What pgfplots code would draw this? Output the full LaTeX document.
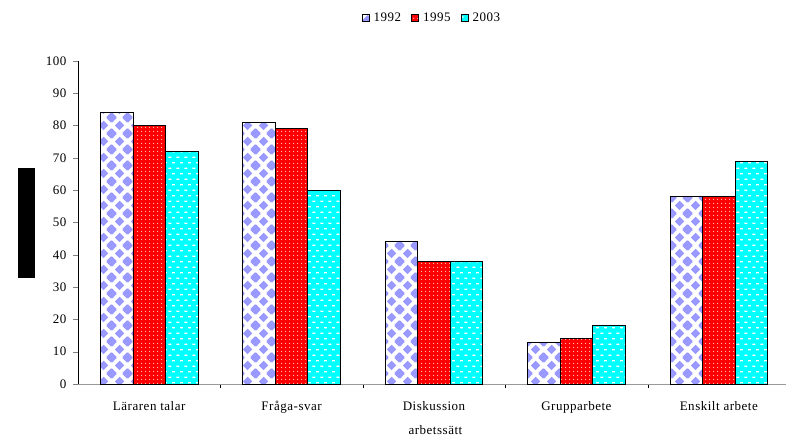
\documentclass[border=0pt]{standalone}
\usepackage{fontspec}
\setmainfont{Liberation Serif}[LetterSpace=4]
\usepackage{pgfplots}
\pgfplotsset{compat=1.18}
\usetikzlibrary{patterns}

% diamond checker for 1992
\pgfdeclarepatternformonly{diamonds}{\pgfpointorigin}{\pgfpoint{16pt}{16pt}}{\pgfpoint{16pt}{16pt}}{
  \foreach \cx/\cy in {8/8,0/0,16/0,0/16,16/16}{
    \pgfpathmoveto{\pgfpoint{\cx pt-5pt}{\cy pt}}
    \pgfpathlineto{\pgfpoint{\cx pt}{\cy pt-5pt}}
    \pgfpathlineto{\pgfpoint{\cx pt+5pt}{\cy pt}}
    \pgfpathlineto{\pgfpoint{\cx pt}{\cy pt+5pt}}
    \pgfpathclose
  }
  \pgfusepath{fill}
}
% small dots for 1995
\pgfdeclarepatternformonly{reddots}{\pgfpointorigin}{\pgfpoint{4pt}{4pt}}{\pgfpoint{4pt}{4pt}}{
  \pgfpathcircle{\pgfpoint{2pt}{2pt}}{0.75pt}
  \pgfusepath{fill}
}
% staggered dashes for 2003
\pgfdeclarepatternformonly{cyandashes}{\pgfpointorigin}{\pgfpoint{8pt}{11.4pt}}{\pgfpoint{8pt}{11.4pt}}{
  \pgfpathrectangle{\pgfpoint{0.5pt}{2.2pt}}{\pgfpoint{3.2pt}{1.3pt}}
  \pgfpathrectangle{\pgfpoint{4.5pt}{7.9pt}}{\pgfpoint{3.2pt}{1.3pt}}
  \pgfusepath{fill}
}

\definecolor{lav}{HTML}{9999FF}
\definecolor{aqua}{HTML}{00FFFF}

\pgfplotsset{
  sq legend/.style={legend image code/.code={
    \draw[##1, line width=1pt] (0pt,-3.5pt) rectangle (7pt,3.5pt);}},
}

\begin{document}
\begin{tikzpicture}
\useasboundingbox (0,0) rectangle (786pt,436pt);
\fill[black] (17.5pt,158pt) rectangle (35pt,268pt);
\begin{axis}[
  at={(78pt,52pt)}, anchor=south west,
  scale only axis, width=712pt, height=323pt,
  xmin=-0.5, xmax=4.5, ymin=0, ymax=100,
  ybar=0pt, bar width=32.5pt,
  axis lines*=left, axis line style={-},
  x axis line style={draw=gray!80},
  y axis line style={draw=black},
  xtick={0,...,4},
  xticklabels={Läraren talar, Fråga-svar, Diskussion, Grupparbete, Enskilt arbete},
  minor xtick={0.5,1.5,2.5,3.5},
  major x tick style={draw=none},
  minor x tick style={draw=black},
  minor tick length=4pt,
  ytick={0,10,...,100},
  major tick length=5pt,
  tick align=outside,
  tick label style={font=\fontsize{13}{15}\selectfont},
  /pgf/number format/assume math mode=true,
  xticklabel style={yshift=-9pt},
  yticklabel style={xshift=-3pt},
  xlabel={arbetssätt},
  xlabel style={at={(axis description cs:0.502,-0.142)}, anchor=center,
    font=\fontsize{13}{15}\selectfont},
  legend columns=3,
  legend style={at={(axis description cs:0.497,1.133)}, anchor=center,
    draw=none, fill=none, font=\fontsize{13}{15}\selectfont,
    /tikz/every even column/.append style={column sep=8pt},
    /tikz/every odd column/.append style={column sep=2pt}},
]
\addplot[sq legend, draw=black, line width=0.9pt, fill=white,
  postaction={pattern=diamonds, pattern color=lav}]
  coordinates {(0,84) (1,81) (2,44) (3,13) (4,58)};
\addplot[sq legend, draw=black, line width=0.9pt, fill=red,
  postaction={pattern=reddots, pattern color=white!80!red}]
  coordinates {(0,80) (1,79) (2,38) (3,14) (4,58)};
\addplot[sq legend, draw=black, line width=0.9pt, fill=aqua,
  postaction={pattern=cyandashes, pattern color=white}]
  coordinates {(0,72) (1,60) (2,38) (3,18) (4,69)};
\legend{1992, 1995, 2003}
\end{axis}
\end{tikzpicture}
\end{document}
